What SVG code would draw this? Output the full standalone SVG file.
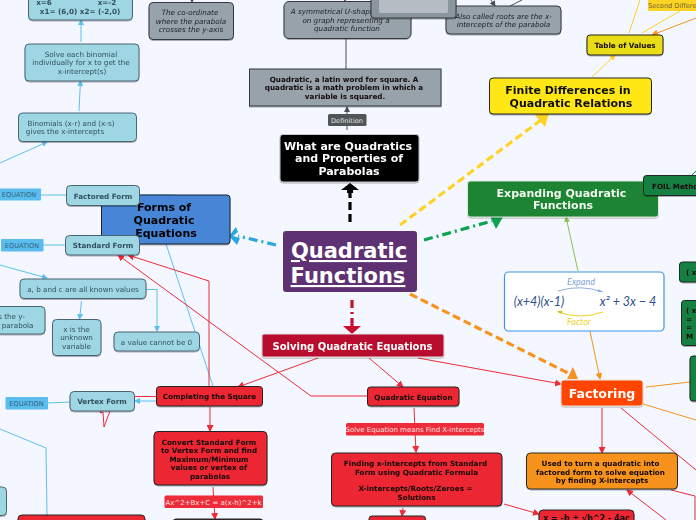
<svg xmlns="http://www.w3.org/2000/svg" width="696" height="520" viewBox="0 0 696 520">
<defs>
<style>
text{font-family:"DejaVu Sans",Verdana,sans-serif;text-anchor:middle}
.n{filter:url(#s)}
.blue{fill:#9ed6e4;stroke:#4a6575;stroke-width:1}
.blue+text,.bt{fill:#33505f;font-size:7.2px}
.gray{fill:#98a2ab;stroke:#33383d;stroke-width:1}
.it{fill:#1c2125;font-size:7.2px;font-style:italic}
.red{fill:#ec2832;stroke:#222;stroke-width:1}
.b{font-weight:bold;fill:#14090a;font-size:7.2px}
.grn{fill:#148043;stroke:#1a2a20;stroke-width:1}
.lab{fill:#5bbdee;stroke:none}
.lt{fill:#2f5f7d;font-size:6.6px}
.c{fill:none;stroke-width:1}
.lb{stroke:#5cc0ef}.rd{stroke:#ee2b38}.gy{stroke:#4a4f54}.or{stroke:#f7931e}.ye{stroke:#ffd324}
.d{fill:none;stroke-width:3.2;stroke-dasharray:8 4}
</style>
<filter id="s" x="-10%" y="-10%" width="120%" height="130%"><feDropShadow dx="0" dy="1" stdDeviation="0.7" flood-color="#000" flood-opacity="0.3"/></filter>
<marker id="al" markerWidth="6" markerHeight="6" refX="5" refY="3" orient="auto" markerUnits="userSpaceOnUse"><path d="M0 0L6 3L0 6z" fill="#5cc0ef"/></marker>
<marker id="ar" markerWidth="7" markerHeight="7" refX="6" refY="3.5" orient="auto" markerUnits="userSpaceOnUse"><path d="M0 0L7 3.5L0 7z" fill="#ee2b38"/></marker>
<marker id="ag" markerWidth="6" markerHeight="6" refX="5" refY="3" orient="auto" markerUnits="userSpaceOnUse"><path d="M0 0L6 3L0 6z" fill="#4a4f54"/></marker>
<marker id="ao" markerWidth="7" markerHeight="7" refX="6" refY="3.5" orient="auto" markerUnits="userSpaceOnUse"><path d="M0 0L7 3.5L0 7z" fill="#f7931e"/></marker>
<marker id="ay" markerWidth="6" markerHeight="6" refX="5" refY="3" orient="auto" markerUnits="userSpaceOnUse"><path d="M0 0L6 3L0 6z" fill="#ffd324"/></marker>
<marker id="ae" markerWidth="6" markerHeight="6" refX="5" refY="3" orient="auto" markerUnits="userSpaceOnUse"><path d="M0 0L6 3L0 6z" fill="#8bc34a"/></marker>
</defs>
<rect width="696" height="520" fill="#f4f7ff"/>

<g id="connectors">
<path class="c lb" d="M81 42V20" marker-end="url(#al)"/>
<path class="c lb" d="M79 111L80.500 81" marker-end="url(#al)"/>
<path class="c lb" d="M0 163L47 142" marker-end="url(#al)"/>
<path class="c lb" d="M41 195H66M43 245H65M48 403L70 402"/>
<path class="c lb" d="M0 265L47 278" marker-end="url(#al)"/>
<path class="c lb" d="M166 244L213 386"/>
<path class="c lb" d="M146 289.500H157V331" marker-end="url(#al)"/>
<path class="c lb" d="M81.500 301L79.500 319" marker-end="url(#al)"/>
<path class="c lb" d="M0 429L46 448L47 515"/>
<path class="c lb" d="M156 401H135" stroke-width="1.800" marker-end="url(#al)"/>
<path class="c lb" d="M140 195H175"/>
<path class="c rd" d="M156 396.500H135"/>
<path class="c rd" stroke-width="1.200" d="M209 386V281L128 255" marker-end="url(#ar)"/>
<path class="c rd" stroke-width="1.200" d="M367 396H311L118 255" marker-end="url(#ar)"/>
<path class="c rd" d="M318 358L238 387" marker-end="url(#ar)"/>
<path class="c rd" d="M369 358L403 387" marker-end="url(#ar)"/>
<path class="c rd" d="M418 358L561 384" marker-end="url(#ar)"/>
<path class="c rd" d="M210 407V431" marker-end="url(#ar)"/>
<path class="c rd" d="M213 487L215 519" marker-end="url(#ar)"/>
<path class="c rd" d="M414 408L416 452" marker-end="url(#ar)"/>
<path class="c rd" d="M403 508L402 516" marker-end="url(#ar)"/>
<path class="c rd" d="M504 504L539 514" marker-end="url(#ar)"/>
<path class="c rd" d="M602 408V453" marker-end="url(#ar)"/>
<path class="c rd" d="M621 408L696 470"/>
<path class="c rd" stroke-width="1.200" d="M671 490L695 496V520"/>
<path class="c rd" stroke-width="1.200" d="M666 520L627 490" marker-end="url(#ar)"/>
<path fill="none" stroke="#ee2b38" d="M110 411L104 427L103 412L100 413L103 408L107 412"/>
<path class="c gy" d="M346 38V69"/>
<path class="c gy" d="M347 130V107" marker-end="url(#ag)"/>
<path class="c gy" stroke-width="1.500" d="M192 -4V2" marker-end="url(#ag)"/>
<path class="c gy" stroke-width="1.500" d="M345 -4V1" marker-end="url(#ag)"/>
<path class="c gy" d="M491 0L495 6" marker-end="url(#ag)"/>
<path class="c gy" d="M522 0L510 6"/>
<path class="c" stroke="#148043" d="M692 175L696 171"/>
<path class="c ye" d="M592 77L615 55" marker-end="url(#ay)"/>
<path class="c ye" d="M629 33L640 0"/>
<path class="c ye" d="M642 33L680 11"/>
<path class="c or" stroke-width="1.200" d="M696 18L652 35" marker-end="url(#ao)"/>
<path class="c" stroke="#8bc34a" stroke-width="1.300" d="M578 271L566 217" marker-end="url(#ae)"/>
<path class="c or" stroke-width="1.200" d="M590 331L600 379" marker-end="url(#ao)"/>
<path class="c or" d="M646 387L690 382M643 404L696 420"/>
<g fill="none" stroke-width="3.200">
<path stroke="#000" stroke-dasharray="8 4" d="M350 222V190"/>
<path fill="#000" stroke="none" d="M341 190L350 183L359 190H353V193H347V190z"/>
<path stroke="#29a8e0" stroke-dasharray="9 4 2 4" d="M276 245L238 236"/>
<path fill="#29a8e0" stroke="none" d="M236 227L229 236L237 245L240 238L233 236L238 232z"/>
<path stroke="#ffd324" stroke-dasharray="8 4" d="M400 225L541 120"/>
<path fill="#ffd324" stroke="none" d="M535 115L549 113L545 127z"/>
<path stroke="#0aa350" stroke-dasharray="9 4 2 4" d="M424 240L492 221"/>
<path fill="#0aa350" stroke="none" d="M490 216L503 217L496 229z"/>
<path stroke="#f7931e" stroke-dasharray="8 4" d="M410 294L570 374"/>
<path fill="#f7931e" stroke="none" d="M567 379L573 367L578 379z"/>
<path stroke="#c8102e" stroke-dasharray="8 4 2 4" d="M352 300V326"/>
<path fill="#c8102e" stroke="none" d="M343 326H361L352 334z"/>
</g>
</g>

<g id="n-solutions" class="n"><rect class="blue" x="28.500" y="-15" width="104" height="35" rx="4"/><text class="bt" font-weight="bold" x="44" y="4.500" style="font-weight:bold">x=6</text><text class="bt" style="font-weight:bold" x="107" y="4.500">x=-2</text><text class="bt" style="font-weight:bold" x="80" y="13.500">x1= (6,0)   x2= (-2,0)</text></g>
<g id="n-solve" class="n"><rect class="blue" x="25" y="44" width="114" height="37" rx="4"/><text class="bt" x="81" y="57">Solve each binomial</text><text class="bt" x="81" y="65">individually for x to get the</text><text class="bt" x="82" y="74">x-intercept(s)</text></g>
<g id="n-binomials" class="n"><rect class="blue" x="18.500" y="113" width="118" height="28.500" rx="4"/><text class="bt" x="71" y="126">Binomials (x-r) and (x-s)</text><text class="bt" x="65" y="134">gives the x-intercepts</text></g>
<g id="n-coordinate" class="n"><rect class="gray" x="149" y="2.500" width="84.500" height="37" rx="4"/><text class="it" x="190" y="15">The co-ordinate</text><text class="it" x="191" y="24">where the parabola</text><text class="it" x="191" y="32">crosses the y-axis</text></g>
<g id="n-symmetrical" class="n"><rect class="gray" x="284" y="1.500" width="127" height="37" rx="5"/><text class="it" x="346" y="14">A symmetrical U-shaped curve</text><text class="it" x="346" y="23">on graph representing a</text><text class="it" x="347" y="31">quadratic function</text></g>
<g id="n-also" class="n"><rect class="gray" x="446" y="6" width="115" height="28" rx="4"/><text class="it" x="503.500" y="19">Also called roots are the x-</text><text class="it" x="503.500" y="27">intercepts of the parabola</text></g>
<g id="n-image" class="n"><rect x="371" y="-20" width="85" height="38" rx="3" fill="#8a959d" stroke="#33383d"/><rect x="379" y="-12" width="69" height="25" rx="2" fill="#b5bcc4"/></g>
<g id="n-latin" class="n"><rect class="gray" x="249.500" y="69" width="191.500" height="37" fill="#98a2ab"/><text class="b" x="344" y="82">Quadratic, a latin word for square. A</text><text class="b" x="344" y="90">quadratic is a math problem in which a</text><text class="b" x="345" y="99">variable is squared.</text></g>
<g id="n-definition"><rect x="328" y="114" width="38.500" height="12" rx="1.500" fill="#4f5559"/><text x="347" y="122.500" font-size="6.600" fill="#e4e6e8">Definition</text></g>
<g id="n-what" class="n"><rect x="280" y="134.500" width="139" height="47.500" rx="3" fill="#000" stroke="#c4c8cc"/><text x="348" y="150" font-size="11" font-weight="bold" fill="#fff">What are Quadratics</text><text x="349" y="162" font-size="11" font-weight="bold" fill="#fff">and Properties of</text><text x="349" y="175" font-size="11" font-weight="bold" fill="#fff">Parabolas</text></g>
<g id="n-root"><rect x="283" y="231" width="134" height="61" rx="3" fill="#5e3272"/><text x="349" y="258" font-size="21" font-weight="bold" fill="#fff" text-decoration="underline">Quadratic </text><text x="348" y="283" font-size="21" font-weight="bold" fill="#fff" text-decoration="underline">Functions</text></g>
<g id="n-forms" class="n"><rect x="101.500" y="195" width="128.500" height="49" rx="3" fill="#4785d6" stroke="#1c2230"/><text x="164" y="211" font-size="11" font-weight="bold" fill="#000">Forms of</text><text x="164" y="224" font-size="11" font-weight="bold" fill="#000">Quadratic</text><text x="166" y="236.500" font-size="11" font-weight="bold" fill="#000">Equations</text></g>
<g id="n-factored" class="n"><rect class="blue" x="66.500" y="185.500" width="73" height="20" rx="4"/><text class="bt" style="font-weight:bold" x="103" y="198.500">Factored Form</text></g>
<g id="n-standard" class="n"><rect class="blue" x="65.500" y="235.500" width="74" height="19.500" rx="4"/><text class="bt" style="font-weight:bold" x="103" y="248">Standard Form</text></g>
<g id="n-eq1"><rect class="lab" x="-3" y="188.500" width="44" height="12" rx="1"/><text class="lt" x="19" y="197">EQUATION</text></g>
<g id="n-eq2"><rect class="lab" x="1" y="239" width="42.500" height="12.500" rx="1"/><text class="lt" x="22" y="248">EQUATION</text></g>
<g id="n-eq3"><rect class="lab" x="5.500" y="397" width="42.500" height="12.500" rx="1"/><text class="lt" x="26.500" y="405.500">EQUATION</text></g>
<g id="n-abc" class="n"><rect class="blue" x="20" y="279" width="126" height="19.500" rx="4"/><text class="bt" x="83" y="291.500">a, b and c are all known values</text></g>
<g id="n-yint" class="n"><rect class="blue" x="-12" y="306.500" width="57" height="27.500" rx="4"/><text class="bt" style="text-anchor:end" x="25" y="319">is the y-</text><text class="bt" style="text-anchor:end" x="33.500" y="327.500">of parabola</text></g>
<g id="n-xvar" class="n"><rect class="blue" x="52.500" y="319.500" width="48.500" height="36" rx="4"/><text class="bt" x="76.500" y="332">x is the</text><text class="bt" x="76.500" y="340">unknown</text><text class="bt" x="76.500" y="349">variable</text></g>
<g id="n-avalue" class="n"><rect class="blue" x="114" y="332" width="85.500" height="19" rx="4"/><text class="bt" x="156.500" y="344.500">a value cannot be 0</text></g>
<g id="n-vertex" class="n"><rect class="blue" x="70" y="391.500" width="64.500" height="19.500" rx="4"/><text class="bt" style="font-weight:bold" x="102" y="404">Vertex Form</text></g>
<g id="n-bl" class="n"><rect class="blue" x="-12" y="487" width="18.500" height="28.500" rx="4"/></g>
<g id="n-blred" class="n"><rect class="red" x="18" y="515" width="127" height="20" rx="4"/></g>
<g id="n-solving" class="n"><rect x="262" y="334" width="182" height="23" rx="2" fill="#b80f2e" stroke="#e6dfe2"/><text x="352.500" y="349.500" font-size="10" font-weight="bold" fill="#fff">Solving Quadratic Equations</text></g>
<g id="n-completing" class="n"><rect class="red" x="156.500" y="386.500" width="106" height="19.500" rx="3"/><text class="b" x="209.500" y="399">Completing the Square</text></g>
<g id="n-quadeq" class="n"><rect class="red" x="367.500" y="387" width="91.500" height="19" rx="3"/><text class="b" x="413.500" y="399.500">Quadratic Equation</text></g>
<g id="n-convert" class="n"><rect class="red" x="154" y="431.500" width="113" height="53.500" rx="4"/><text class="b" x="209" y="444.500">Convert Standard Form</text><text class="b" x="209" y="452.500">to Vertex Form and find</text><text class="b" x="209" y="461.500">Maximum/Minimum</text><text class="b" x="209" y="469.500">values or vertex of</text><text class="b" x="210" y="478.500">parabolas</text></g>
<g id="n-vlabel"><rect x="164.500" y="495.500" width="98.500" height="12.500" rx="1.500" fill="#ee2b38"/><text x="213.500" y="504.500" font-size="7" fill="#ffe1e1">Ax^2+Bx+C = a(x-h)^2+k</text></g>
<g id="n-vnext" class="n"><rect x="173" y="519" width="90" height="20" rx="3" fill="#3a2a2c" stroke="#222"/></g>
<g id="n-slabel"><rect x="346" y="423" width="138" height="12.500" rx="1.500" fill="#ee2b38"/><text x="415" y="432" font-size="7" fill="#ffe1e1">Solve Equation means Find X-intercepts</text></g>
<g id="n-finding" class="n"><rect class="red" x="331.500" y="453" width="170.500" height="53" rx="4"/><text class="b" x="415.500" y="465.500">Finding x-intercepts from Standard</text><text class="b" x="416.500" y="474.500">Form using Quadratic Formula</text><text class="b" x="415.500" y="491">X-intercepts/Roots/Zeroes =</text><text class="b" x="416.500" y="499.500">Solutions</text></g>
<g id="n-fnext" class="n"><rect class="red" x="369" y="516" width="56.500" height="20" rx="3"/></g>
<g id="n-formula" class="n"><rect class="red" x="539" y="510" width="95" height="20" rx="4"/><text class="b" x="586.500" y="520.500" style="font-size:8px">x = -b ± √b^2 - 4ac</text></g>
<g id="n-used" class="n"><rect x="526.500" y="453" width="151" height="36" rx="4" fill="#f7931e" stroke="#2b2b2b"/><text class="b" x="600.500" y="465.500">Used to turn a quadratic into</text><text class="b" x="600.500" y="474.500">factored form to solve equation</text><text class="b" x="602" y="482.500">by finding X-intercepts</text></g>
<g id="n-factoring" class="n"><rect x="561" y="380" width="82" height="26" rx="3" fill="#ff4500" stroke="#ece3dc"/><text x="602" y="398" font-size="12.500" font-weight="bold" fill="#fff">Factoring</text></g>
<g id="n-finite" class="n"><rect x="489.500" y="78" width="162" height="36" rx="3.500" fill="#ffe714" stroke="#222"/><text x="568" y="94" font-size="11" font-weight="bold" fill="#111">Finite Differences in</text><text x="571" y="107" font-size="11" font-weight="bold" fill="#111">Quadratic Relations</text></g>
<g id="n-table" class="n"><rect x="587" y="35" width="76" height="20" rx="3" fill="#e8dd17" stroke="#222"/><text class="b" x="625" y="48">Table of Values</text></g>
<g id="n-second"><rect x="648" y="-3" width="60" height="14" rx="1.500" fill="#ffd324"/><text x="682" y="7.500" font-size="6.600" fill="#665f30" style="text-anchor:start" dx="-34">Second Differences</text></g>
<g id="n-expanding" class="n"><rect x="467.500" y="181" width="191" height="36" rx="3" fill="#1a8433" stroke="#dfe5df"/><text x="561.500" y="197" font-size="11" font-weight="bold" fill="#f2f7ee">Expanding Quadratic</text><text x="563" y="209" font-size="11" font-weight="bold" fill="#f2f7ee">Functions</text></g>
<g id="n-foil" class="n"><rect class="grn" x="643.500" y="175.500" width="70" height="20" rx="3"/><text class="b" x="652" y="188.500" style="text-anchor:start">FOIL Method</text></g>
<g id="n-expr"><rect x="504.500" y="272" width="159.500" height="59" rx="4" fill="#fff" stroke="#3f93e8" stroke-width="1.200"/>
<g font-family="Lato,sans-serif" font-style="italic" fill="#2f4f8f">
<text x="539" y="306" font-size="12.500" style="font-family:Lato,sans-serif">(x+4)(x-1)</text>
<text x="628" y="306" font-size="12.500" style="font-family:Lato,sans-serif">x² + 3x − 4</text>
<text x="581" y="285" font-size="9" fill="#7fa3d6" style="font-family:Lato,sans-serif">Expand</text>
<text x="579" y="325" font-size="9" fill="#f0d21f" style="font-family:Lato,sans-serif">Factor</text></g>
<path fill="none" stroke="#8fb0dd" d="M558 291Q580 284 603 292" marker-end="url(#ab)"/>
<path d="M603 292l-5-3v3z" fill="#8fb0dd"/>
<path fill="none" stroke="#f0d21f" d="M603 312Q580 320 558 312"/>
<path d="M557 311l6 0l-2 3z" fill="#e0c010"/></g>
<g id="n-r1" class="n"><rect class="grn" x="679.500" y="262" width="40" height="20" rx="3"/><text class="b" x="686" y="274.500" style="text-anchor:start">( x</text></g>
<g id="n-r2" class="n"><rect class="grn" x="681.500" y="300.500" width="40" height="45" rx="3"/><text class="b" x="686" y="313" style="text-anchor:start">( x</text><text class="b" x="686" y="321.500" style="text-anchor:start">=</text><text class="b" x="686" y="330" style="text-anchor:start">=</text><text class="b" x="686" y="338.500" style="text-anchor:start">M</text></g>
<g id="n-r3" class="n"><rect class="grn" x="690" y="356" width="30" height="45" rx="3"/></g>
</svg>
